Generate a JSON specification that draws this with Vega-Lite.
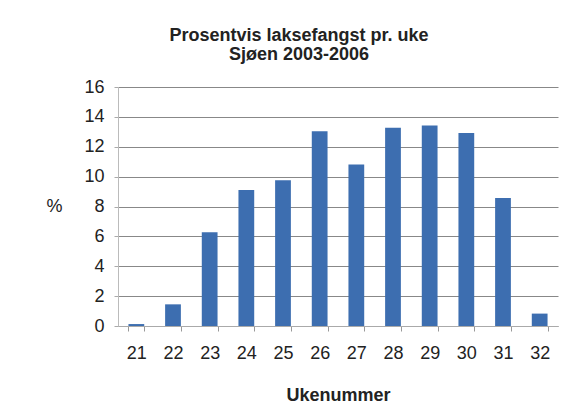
{
  "$schema": "https://vega.github.io/schema/vega-lite/v6.json",
  "autosize": "none",
  "width": 440,
  "height": 239,
  "padding": {"left": 118, "top": 87, "right": 24, "bottom": 84},
  "background": "white",
  "title": {
    "text": ["Prosentvis laksefangst pr. uke", "Sjøen 2003-2006"],
    "font": "Liberation Sans",
    "fontSize": 18,
    "fontWeight": "bold",
    "color": "#222222",
    "anchor": "middle",
    "frame": "group",
    "dx": -39,
    "offset": 14,
    "lineHeight": 19
  },
  "data": {
    "values": [
      {"uke": "21", "pct": 0.13},
      {"uke": "22", "pct": 1.45},
      {"uke": "23", "pct": 6.27},
      {"uke": "24", "pct": 9.1},
      {"uke": "25", "pct": 9.75},
      {"uke": "26", "pct": 13.03},
      {"uke": "27", "pct": 10.82},
      {"uke": "28", "pct": 13.27},
      {"uke": "29", "pct": 13.43},
      {"uke": "30", "pct": 12.92},
      {"uke": "31", "pct": 8.57},
      {"uke": "32", "pct": 0.83}
    ]
  },
  "mark": {"type": "bar", "color": "#3d6eb0"},
  "encoding": {
    "x": {
      "field": "uke",
      "type": "ordinal",
      "scale": {"paddingInner": 0.57, "paddingOuter": 0.285},
      "axis": {
        "title": "Ukenummer",
        "titleFont": "Liberation Sans",
        "titleFontSize": 18,
        "titleFontWeight": "bold",
        "titleColor": "#222222",
        "titlePadding": 24,
        "labelAngle": 0,
        "labelFont": "Liberation Sans",
        "labelFontSize": 18,
        "labelColor": "#222222",
        "labelPadding": 13,
        "tickBand": "extent",
        "tickSize": 5,
        "tickColor": "#999999",
        "domainColor": "#aaaaaa",
        "grid": false
      }
    },
    "y": {
      "field": "pct",
      "type": "quantitative",
      "scale": {"domain": [0, 16], "nice": false},
      "axis": {
        "title": "%",
        "titleAngle": 0,
        "titleFont": "Liberation Sans",
        "titleFontSize": 18,
        "titleFontWeight": "normal",
        "titleColor": "#222222",
        "titleAlign": "center",
        "titleBaseline": "middle",
        "titleX": -64,
        "titleY": 119,
        "values": [0, 2, 4, 6, 8, 10, 12, 14, 16],
        "labelFont": "Liberation Sans",
        "labelFontSize": 18,
        "labelColor": "#222222",
        "labelPadding": 10,
        "tickSize": 4,
        "tickColor": "#aaaaaa",
        "domainColor": "#bbbbbb",
        "grid": true,
        "gridColor": "#888888",
        "gridWidth": 1
      }
    }
  },
  "config": {"view": {"stroke": null}}
}
